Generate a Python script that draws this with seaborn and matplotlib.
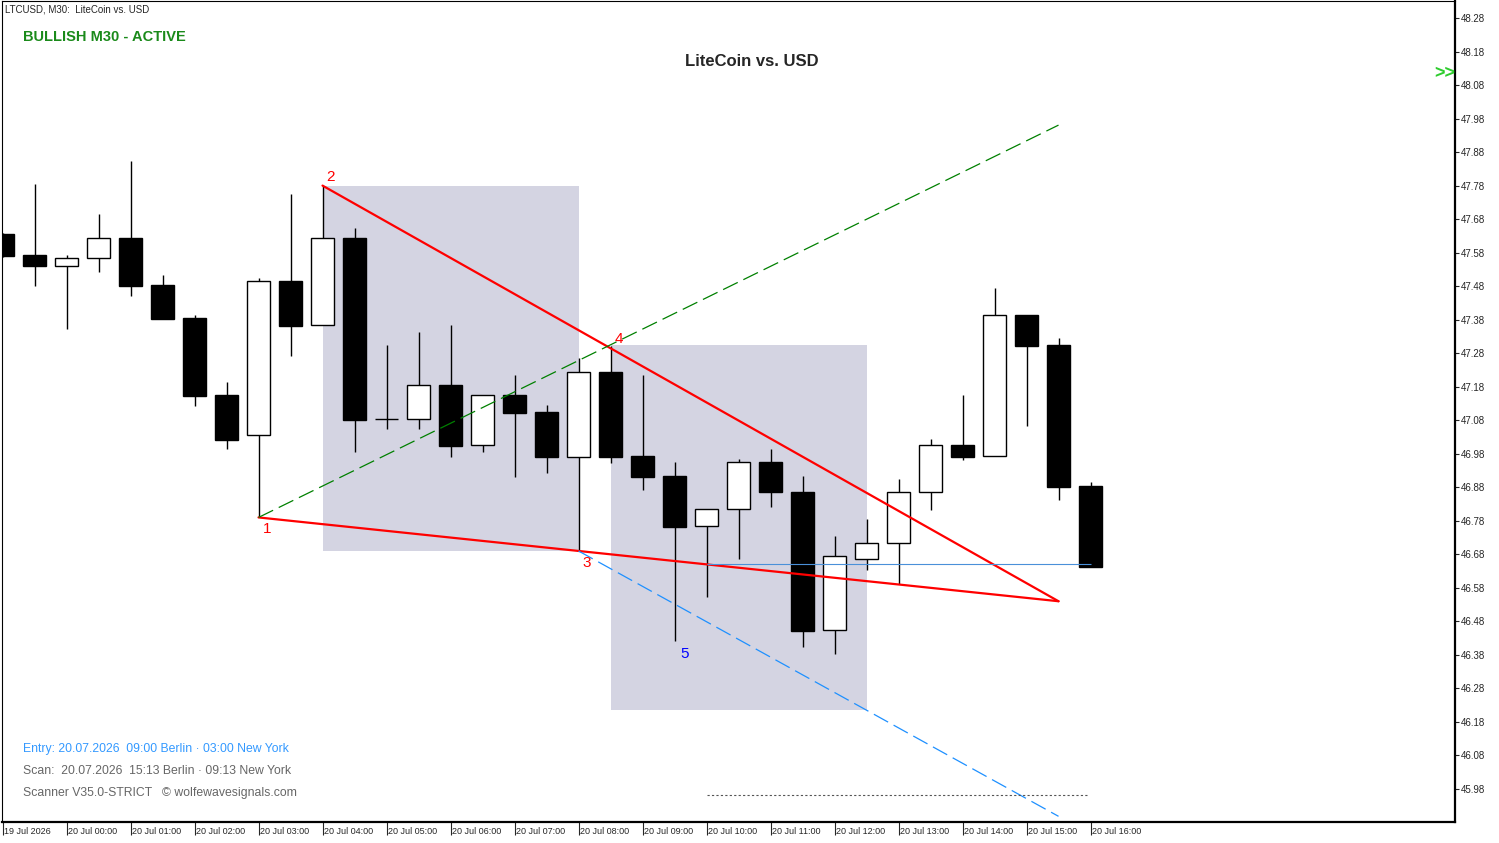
import numpy as np
import matplotlib
matplotlib.use("Agg")
import matplotlib.pyplot as plt
import matplotlib.transforms as mtransforms
from matplotlib.patches import Rectangle
import seaborn as sns

# candle data, M30, first candle = 19 Jul 23:00
opens = [47.636, 47.573, 47.541, 47.563, 47.623, 47.483, 47.385, 47.155, 47.035, 47.495,
         47.363, 47.623, 47.083, 47.083, 47.184, 47.005, 47.154, 47.104, 46.971, 47.223,
         46.972, 46.913, 46.764, 46.814, 46.954, 46.865, 46.453, 46.666, 46.713, 46.865,
         47.005, 46.972, 47.393, 47.303, 46.883]
highs = [47.640, 47.785, 47.573, 47.695, 47.853, 47.513, 47.394, 47.194, 47.504, 47.755,
         47.779, 47.653, 47.304, 47.342, 47.363, 47.154, 47.215, 47.125, 47.267, 47.300,
         47.215, 46.955, 46.814, 46.963, 46.993, 46.914, 46.735, 46.785, 46.904, 47.024,
         47.155, 47.475, 47.393, 47.325, 46.896]
lows = [47.568, 47.481, 47.353, 47.523, 47.452, 47.381, 47.123, 46.994, 46.791, 47.273,
        47.363, 46.984, 47.053, 47.053, 46.971, 46.984, 46.912, 46.924, 46.693, 46.953,
        46.872, 46.422, 46.554, 46.665, 46.822, 46.404, 46.384, 46.633, 46.591, 46.813,
        46.962, 46.972, 47.064, 46.843, 46.643]
closes = [47.570, 47.541, 47.563, 47.623, 47.481, 47.383, 47.153, 47.022, 47.494, 47.362,
          47.623, 47.082, 47.083, 47.184, 47.004, 47.154, 47.103, 46.971, 47.223, 46.971,
          46.912, 46.762, 46.814, 46.954, 46.865, 46.452, 46.674, 46.713, 46.865, 47.005,
          46.971, 47.393, 47.302, 46.882, 46.643]

x_labels = ["19 Jul 2026", "20 Jul 00:00", "20 Jul 01:00", "20 Jul 02:00", "20 Jul 03:00",
            "20 Jul 04:00", "20 Jul 05:00", "20 Jul 06:00", "20 Jul 07:00", "20 Jul 08:00",
            "20 Jul 09:00", "20 Jul 10:00", "20 Jul 11:00", "20 Jul 12:00", "20 Jul 13:00",
            "20 Jul 14:00", "20 Jul 15:00", "20 Jul 16:00"]
y_ticks = [45.98, 46.08, 46.18, 46.28, 46.38, 46.48, 46.58, 46.68, 46.78, 46.88, 46.98,
           47.08, 47.18, 47.28, 47.38, 47.48, 47.58, 47.68, 47.78, 47.88, 47.98, 48.08,
           48.18, 48.28]

# wolfe wave points (candle index, price)
wave_idx = [8, 10, 18, 19, 21]
wave_price = [46.79, 47.78, 46.69, 47.305, 46.42]
wave_names = ["1", "2", "3", "4", "5"]
apex_idx = 33
apex_price = 46.54
bid_price = 46.65
target_price = 45.962
line_start_idx = 22

sns.set_style("white")
plt.rcParams['font.family'] = ['Liberation Sans', 'DejaVu Sans']

fig = plt.figure(figsize=(14.99, 8.43), dpi=100)
ax = fig.add_axes([2 / 1499, 21 / 843, 1453 / 1499, 821 / 843])
ax.set_xlim(-0.016, 45.39)
ax.set_ylim(45.8814, 48.3307)

# zones
h = wave_price[1] - wave_price[2]
ax.add_patch(Rectangle((wave_idx[1], wave_price[2]), wave_idx[2] - wave_idx[1], h,
                       facecolor='#d4d4e2', edgecolor='none', zorder=1))
ax.add_patch(Rectangle((wave_idx[3], wave_price[3] - h), 8, h,
                       facecolor='#d4d4e2', edgecolor='none', zorder=1))

# candles
idx = np.arange(len(opens))
o = np.array(opens); c = np.array(closes)
bull = c >= o
ax.vlines(idx, lows, highs, color='black', lw=1.0, zorder=3)
ax.bar(idx[bull], (c - o)[bull], bottom=o[bull], width=0.7, color='white',
       edgecolor='black', linewidth=1.0, zorder=4)
ax.bar(idx[~bull], (o - c)[~bull], bottom=c[~bull], width=0.7, color='black',
       edgecolor='black', linewidth=1.0, zorder=4)

# wave lines
def ext(i0, p0, i1, p1, i_end):
    return p0 + (p1 - p0) * (i_end - i0) / (i1 - i0)

i1, i2, i3, i4, i5 = wave_idx
p1, p2, p3, p4, p5 = wave_price
ax.plot([i1, apex_idx], [p1, apex_price], color='#ff0000', lw=1.6, zorder=5)
ax.plot([i2, apex_idx], [p2, apex_price], color='#ff0000', lw=1.6, zorder=5)
ax.plot([i1, apex_idx], [p1, ext(i1, p1, i4, p4, apex_idx)], color='#008000', lw=0.9,
        ls=(0, (13, 5)), zorder=5)
slope24 = (p4 - p2) / (i4 - i2)
ax.plot([i3, apex_idx], [p3, p3 + slope24 * (apex_idx - i3)], color='#1e90ff', lw=0.9,
        ls=(0, (13, 5)), zorder=5)

ax.hlines(bid_price, line_start_idx, len(opens) - 1, color='#4a90d9', lw=0.8, zorder=6)
ax.hlines(target_price, line_start_idx, len(opens) - 1.1, color='#555555', lw=0.8,
          ls=(0, (2, 2)), zorder=6)

offsets = [(6, -8), (6, 6), (6, -9), (6, 4), (7, -9)]
for n, xi, pr, off in zip(wave_names, wave_idx, wave_price, offsets):
    col = '#0000ff' if n == "5" else '#ff0000'
    ax.annotate(n, (xi, pr), xytext=off, textcoords='offset points', color=col,
                fontsize=11, ha='center', va='center', zorder=7)

# axes
ax.yaxis.tick_right()
ax.set_yticks(y_ticks)
ax.set_yticklabels([f"{v:.2f}" for v in y_ticks])
ax.set_xticks(np.arange(0, len(opens), 2))
ax.set_xticklabels(x_labels)
ax.tick_params(axis='y', direction='out', length=3, width=0.8, pad=1, labelsize=7, right=True)
ax.tick_params(axis='x', direction='out', length=9, width=0.8, pad=-5.5, labelsize=6.5, bottom=True)
shift = mtransforms.ScaledTranslation(1 / 100, 0, fig.dpi_scale_trans)
for lab in ax.get_xticklabels():
    lab.set_ha('left')
    lab.set_transform(lab.get_transform() + shift)
for side in ['left', 'top']:
    ax.spines[side].set_linewidth(0.8)
for side in ['right', 'bottom']:
    ax.spines[side].set_linewidth(1.6)
for s in ax.spines.values():
    s.set_color('black')
    s.set_visible(True)

# texts
def fx(px):
    return px / 1499

def fy(py):
    return 1 - py / 843

fig.text(fx(5), fy(9), "LTCUSD, M30:  LiteCoin vs. USD", fontsize=7, va='center', ha='left')
fig.text(fx(23), fy(37), "BULLISH M30 - ACTIVE", fontsize=10.5, fontweight='bold',
         color='#1a8a1a', va='center', ha='left')
fig.text(fx(752), fy(61), "LiteCoin vs. USD", fontsize=12, fontweight='bold',
         va='center', ha='center')
fig.text(fx(1455), fy(74), ">>", fontsize=13, fontweight='bold', color='#2ecc2e',
         va='center', ha='right')
fig.text(fx(23), fy(749), "Entry: 20.07.2026  09:00 Berlin \u00b7 03:00 New York", fontsize=8.8,
         color='#3399ff', va='center', ha='left')
fig.text(fx(23), fy(771), "Scan:  20.07.2026  15:13 Berlin \u00b7 09:13 New York", fontsize=8.8,
         color='#666666', va='center', ha='left')
fig.text(fx(23), fy(793), "Scanner V35.0-STRICT   \u00a9 wolfewavesignals.com", fontsize=8.8,
         color='#666666', va='center', ha='left')

fig.savefig("out.png", dpi=100)
plt.close(fig)
